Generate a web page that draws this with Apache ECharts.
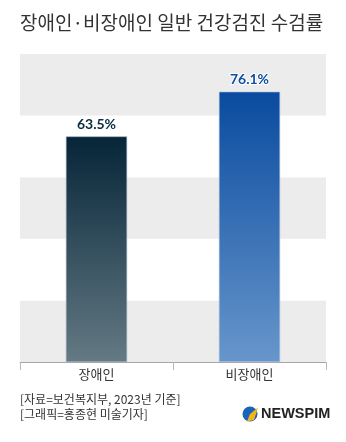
<!DOCTYPE html>
<html>
<head>
<meta charset="utf-8">
<script src="https://cdn.jsdelivr.net/npm/echarts@6/dist/echarts.min.js"></script>
<style>
html,body{margin:0;padding:0;background:#fff;}
#c{width:346px;height:442px;}
</style>
</head>
<body>
<div id="c"></div>
<script>
const titleText = '장애인·비장애인 일반 건강검진 수검률';
const categories = ['장애인', '비장애인'];
const values = [63.5, 76.1];
const sourceLines = ['[자료=보건복지부, 2023년 기준]', '[그래픽=홍종현 미술기자]'];

const barStyles = [
  {top: '#062538', bottom: '#647a84', label: '#0b2a3d', border: '#9fb0bb'},
  {top: '#0a4b9f', bottom: '#6796cb', label: '#0d4fa2', border: '#a9c2e0'}
];

const chart = echarts.init(document.getElementById('c'), null, {renderer: 'canvas'});
const FONT = '"Noto Sans CJK KR", "Noto Sans", sans-serif';

chart.setOption({
  animation: false,
  backgroundColor: '#fff',
  grid: {left: 20, right: 20, top: 54, bottom: 80},
  xAxis: {
    type: 'category',
    data: categories,
    axisLine: {show: true, lineStyle: {color: '#a6a6a6', width: 1}},
    axisTick: {show: true, length: 8, lineStyle: {color: '#b8b8b8'}},
    axisLabel: {color: '#333', fontSize: 13, fontFamily: FONT, margin: 6}
  },
  yAxis: {
    type: 'value',
    min: 0, max: 86.7, interval: 17.34,
    axisLine: {show: false},
    axisTick: {show: false},
    axisLabel: {show: false},
    splitLine: {show: false},
    splitArea: {show: true, areaStyle: {color: ['#ececec', '#ffffff']}}
  },
  series: [{
    type: 'bar',
    barWidth: '40%',
    data: values.map((v, i) => ({
      value: v,
      itemStyle: {
        color: {type: 'linear', x: 0, y: 0, x2: 0, y2: 1, colorStops: [
          {offset: 0, color: barStyles[i].top},
          {offset: 1, color: barStyles[i].bottom}
        ]},
        borderColor: barStyles[i].border,
        borderWidth: 0.6
      },
      label: {color: barStyles[i].label}
    })),
    label: {
      show: true,
      position: 'top',
      distance: 5,
      formatter: p => p.value.toFixed(1) + '%',
      fontFamily: 'Lato, sans-serif',
      fontWeight: 'bold',
      fontSize: 14,
      textBorderColor: '#fff',
      textBorderWidth: 2
    }
  }],
  graphic: [
    {type: 'text', left: 20, top: 13, style: {text: titleText, font: '19px ' + FONT, fill: '#333'}},
    {type: 'text', left: 20, top: 393, style: {text: sourceLines[0], font: '12px ' + FONT, fill: '#333'}},
    {type: 'text', left: 20, top: 408, style: {text: sourceLines[1], font: '12px ' + FONT, fill: '#333'}},
    {type: 'circle', shape: {cx: 250, cy: 414, r: 7.5}, style: {fill: '#1a63b8'}},
    {type: 'polygon', shape: {points: [[250, 414], [258, 407.5], [254, 420], [247, 421.5]]}, style: {fill: '#f2b418'}},
    {type: 'text', left: 261, top: 406, style: {text: 'NEWSPIM', font: 'bold 14.5px "Liberation Sans", Arial, sans-serif', fill: '#222'}}
  ]
});
</script>
</body>
</html>
